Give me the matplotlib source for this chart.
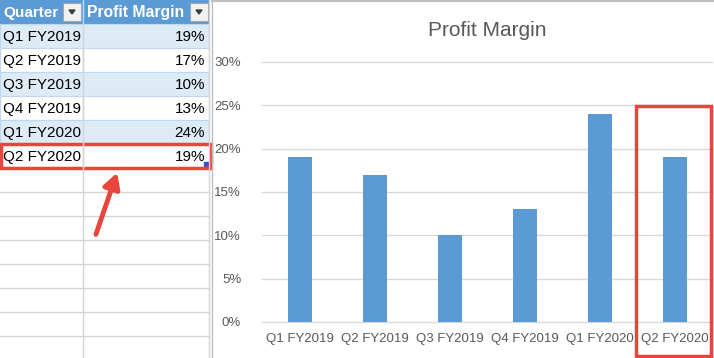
import matplotlib.pyplot as plt
import matplotlib.patches as mpatches
from matplotlib.ticker import PercentFormatter

# data
quarters = ['Q1 FY2019', 'Q2 FY2019', 'Q3 FY2019', 'Q4 FY2019', 'Q1 FY2020', 'Q2 FY2020']
margins = [0.19, 0.17, 0.10, 0.13, 0.24, 0.19]
headers = ['Quarter', 'Profit Margin']
y_ticks = [0, 0.05, 0.10, 0.15, 0.20, 0.25, 0.30]

W, H = 714, 358
BAR_BLUE = '#5B9BD5'
RED = '#E8453C'
GREY_TXT = '#595959'

plt.rcParams['font.family'] = ['Liberation Sans', 'DejaVu Sans']

fig = plt.figure(figsize=(W / 100, H / 100), dpi=100)

# chart axes, placed in pixel terms
left, right, bottom, top = 262, 712, 322, 62
ax = fig.add_axes([left / W, (H - bottom) / H, (right - left) / W, (bottom - top) / H])
x = list(range(len(quarters)))
ax.bar(x, margins, width=0.32, color=BAR_BLUE, zorder=3)
ax.set_xlim(-0.5, len(quarters) - 0.5)
ax.set_ylim(0, 0.30)
ax.set_yticks(y_ticks)
ax.yaxis.set_major_formatter(PercentFormatter(1.0, decimals=0))
ax.set_xticks(x)
ax.set_xticklabels(quarters)
ax.tick_params(axis='y', length=0, pad=15, labelsize=9.5, labelcolor=GREY_TXT)
ax.tick_params(axis='x', length=0, pad=8, labelsize=9.5, labelcolor=GREY_TXT)
ax.grid(axis='y', color='#D9D9D9', linewidth=1, zorder=0)
for s in ax.spines.values():
    s.set_visible(False)
for gl in ax.get_ygridlines():
    gl.set_clip_on(False)
ax.set_title('Profit Margin', fontsize=15, color=GREY_TXT, pad=19)

# overlay in pixel coordinates: spreadsheet table and call-outs
ov = fig.add_axes([0, 0, 1, 1], zorder=5)
ov.set_xlim(0, W)
ov.set_ylim(H, 0)
ov.axis('off')
ov.patch.set_alpha(0)

row_h = 24

# sheet gridlines below the table
for yy in range(168 + row_h, H, row_h):
    ov.plot([0, 209], [yy, yy], color='#D4D4D4', lw=1)
for xx in [83, 209]:
    ov.plot([xx, xx], [0, H], color='#D4D4D4', lw=1)

# header
ov.add_patch(mpatches.Rectangle((0, 0), 209, row_h, facecolor=BAR_BLUE, edgecolor='none'))
ov.text(3, 13, headers[0], color='white', fontsize=11, fontweight='bold', va='center')
ov.text(87, 13, headers[1], color='white', fontsize=11.3, fontweight='bold', va='center')
for bx in [63, 190]:
    ov.add_patch(mpatches.Rectangle((bx, 3), 18, 18, facecolor='#F2F2F2', edgecolor='#A6A6A6', lw=0.8))
    ov.add_patch(mpatches.Polygon([(bx + 6, 10), (bx + 12, 10), (bx + 9, 14)], color='#404040'))

# body rows
for i, (q, m) in enumerate(zip(quarters, margins)):
    y0 = row_h * (i + 1)
    fc = '#DDEBF7' if i % 2 == 0 else 'white'
    ov.add_patch(mpatches.Rectangle((0, y0), 209, row_h, facecolor=fc, edgecolor='#BDD7EE', lw=0.8))
    if i % 2 == 1:
        ov.plot([83, 83], [y0, y0 + row_h], color='#D4D4D4', lw=1)
    ov.text(3, y0 + 13, q, color='black', fontsize=11, va='center')
    ov.text(205, y0 + 13, f'{m * 100:.0f}%', color='black', fontsize=11, va='center', ha='right')

# fill handle on the selected cell
ov.add_patch(mpatches.Rectangle((204, 162), 5, 5, color='#3A4FC2'))

# chart frame
ov.plot([212, 212], [0, H], color='#BFBFBF', lw=1)
ov.plot([212, W], [1, 1], color='#BFBFBF', lw=1.5)

# red highlight boxes
ov.add_patch(mpatches.Rectangle((1, 144), 210, 24, fill=False, edgecolor=RED, lw=2.5))
ov.add_patch(mpatches.Rectangle((636, 106), 75, 250, fill=False, edgecolor=RED, lw=2.5))

# arrow
ov.annotate('', xy=(118, 170), xytext=(95, 237),
            arrowprops=dict(arrowstyle='-|>,head_width=0.5,head_length=0.9',
                            color=RED, lw=3.5, capstyle='round'))

fig.savefig('out.png', dpi=100)
